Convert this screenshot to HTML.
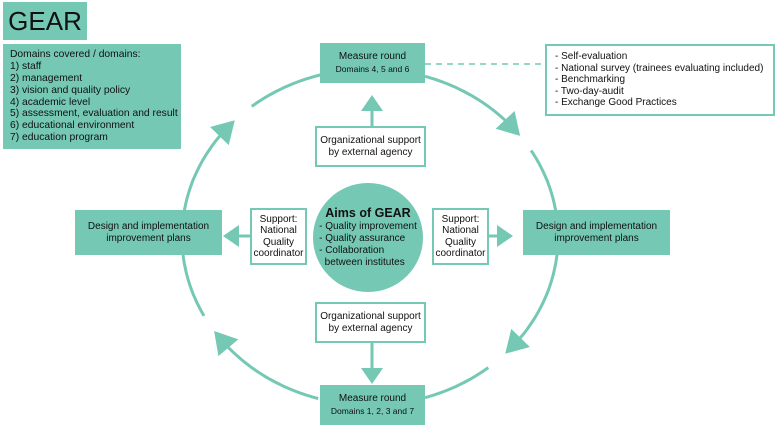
<!DOCTYPE html>
<html><head><meta charset="utf-8"><style>
body{margin:0;width:778px;height:430px;background:#fff;position:relative;overflow:hidden;font-family:"Liberation Sans",Arial,sans-serif;color:#111}
.b{position:absolute;box-sizing:border-box;display:flex;flex-direction:column;justify-content:center;align-items:center;text-align:center;font-size:10px;line-height:12px}
.f{background:#74c8b4}
.w{background:#fff;border:2px solid #74c8b4}
svg{position:absolute;left:0;top:0}
</style></head><body>
<svg id="s" width="778" height="430" viewBox="0 0 778 430"></svg>
<div class="b f" style="left:3px;top:2px;width:84px;height:38px;font-size:26px;justify-content:center">GEAR</div>
<div class="b f" style="left:3px;top:44px;width:178px;height:105px;align-items:flex-start;text-align:left;padding-left:7px;font-size:10.3px;line-height:11.8px">Domains covered / domains:<br>1) staff<br>2) management<br>3) vision and quality policy<br>4) academic level<br>5) assessment, evaluation and result<br>6) educational environment<br>7) education program</div>
<div class="b f" style="left:320px;top:43px;width:105px;height:40px;font-size:10px">Measure round<br><span style="font-size:8.5px">Domains 4, 5 and 6</span></div>
<div class="b w" style="left:545px;top:44px;width:230px;height:72px;align-items:flex-start;text-align:left;padding-left:8px;line-height:11.5px">- Self-evaluation<br>- National survey (trainees evaluating included)<br>- Benchmarking<br>- Two-day-audit<br>- Exchange Good Practices</div>
<div class="b w" style="left:315px;top:126px;width:111px;height:41px">Organizational support<br>by external agency</div>
<div class="b f" style="left:313px;top:183px;width:110px;height:109px;border-radius:50%;font-size:10px;line-height:11.8px;white-space:nowrap"><div style="text-align:left"><b style="font-size:12.5px;line-height:15px;display:block;text-align:center">Aims of GEAR</b>- Quality improvement<br>- Quality assurance<br>- Collaboration<br>&nbsp;&nbsp;between institutes</div></div>
<div class="b w" style="left:250px;top:208px;width:57px;height:57px;font-size:10px;line-height:11.5px">Support:<br>National<br>Quality<br>coordinator</div>
<div class="b w" style="left:432px;top:208px;width:57px;height:57px;font-size:10px;line-height:11.5px">Support:<br>National<br>Quality<br>coordinator</div>
<div class="b f" style="left:75px;top:210px;width:147px;height:45px">Design and implementation<br>improvement plans</div>
<div class="b f" style="left:523px;top:210px;width:147px;height:45px">Design and implementation<br>improvement plans</div>
<div class="b w" style="left:315px;top:302px;width:111px;height:41px">Organizational support<br>by external agency</div>
<div class="b f" style="left:320px;top:385px;width:105px;height:40px">Measure round<br><span style="font-size:8.5px">Domains 1, 2, 3 and 7</span></div>
<script>
var C="#74c8b4",cx=370,cy=237,rx=188,ry=168,h='';
function P(t){t=t*Math.PI/180;return[cx+rx*Math.cos(t),cy+ry*Math.sin(t)]}
function arc(a,b){var d='';for(var t=a;t<=b+0.01;t+=1){var p=P(t);d+=(d?'L':'M')+p[0].toFixed(1)+' '+p[1].toFixed(1)}h+='<path d="'+d+'" fill="none" stroke="'+C+'" stroke-width="3"/>'}
function head(x,y,dx,dy,L,W){var n=Math.hypot(dx,dy);dx/=n;dy/=n;var bx=x-dx*L,by=y-dy*L;h+='<polygon points="'+x+','+y+' '+(bx-dy*W/2)+','+(by+dx*W/2)+' '+(bx+dy*W/2)+','+(by-dx*W/2)+'" fill="'+C+'"/>'}
function ca(a,tip,b,c){arc(a,tip-5);var p=P(tip),q=P(tip-6);head(p[0],p[1],p[0]-q[0],p[1]-q[1],22,26);arc(b,c)}
ca(-172,-136,-129,-74);
ca(-73,-37,-31,-9);
ca(6,44,51,73);
ca(106,146,152,174);
h+='<line x1="425" y1="64" x2="545" y2="64" stroke="'+C+'" stroke-width="1.5" stroke-dasharray="6,5"/>';
h+='<line x1="372" y1="126" x2="372" y2="105" stroke="'+C+'" stroke-width="3"/>';head(372,95,0,-1,16,22);
h+='<line x1="372" y1="343" x2="372" y2="372" stroke="'+C+'" stroke-width="3"/>';head(372,384,0,1,16,22);
h+='<line x1="250" y1="236" x2="232" y2="236" stroke="'+C+'" stroke-width="3"/>';head(223,236,-1,0,16,22);
h+='<line x1="489" y1="236" x2="503" y2="236" stroke="'+C+'" stroke-width="3"/>';head(513,236,1,0,16,22);
document.getElementById('s').innerHTML=h;
</script>
</body></html>
